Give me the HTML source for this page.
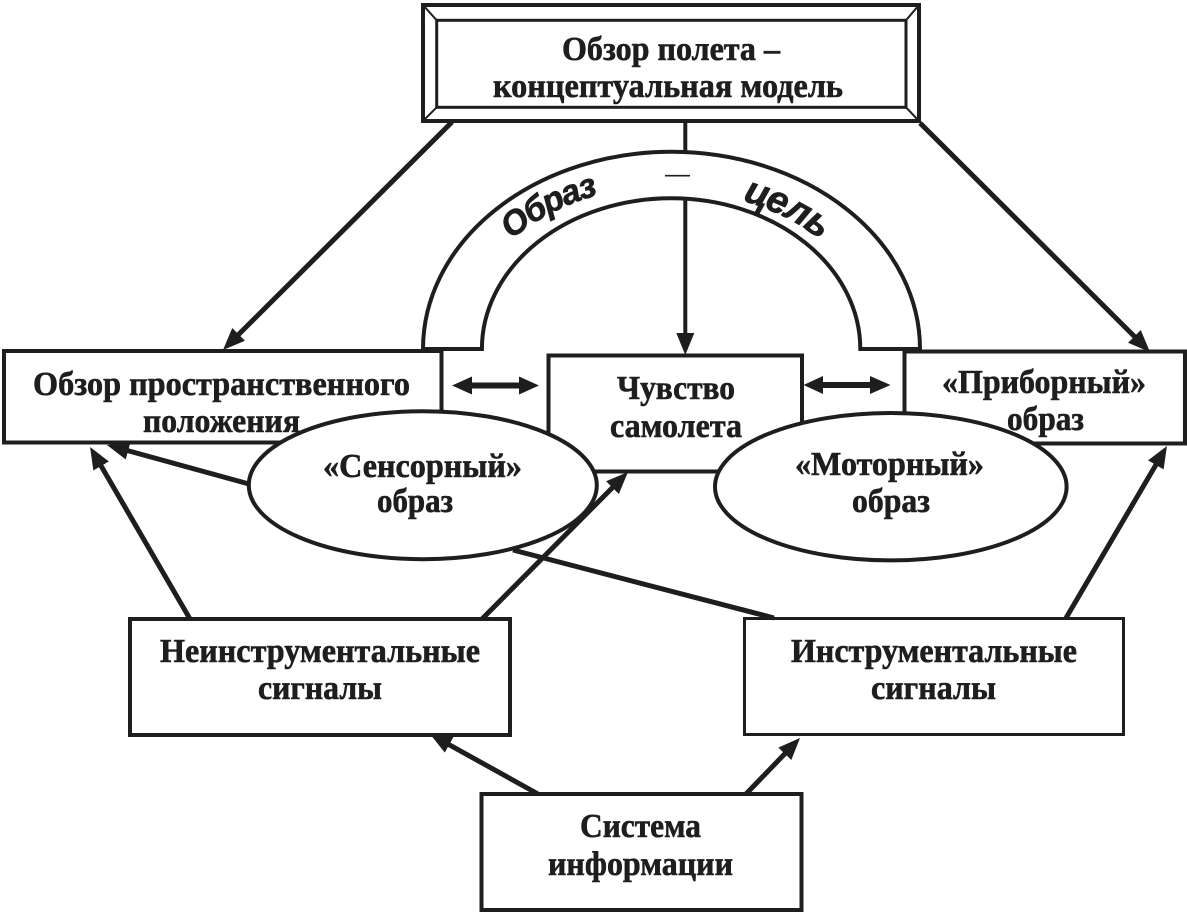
<!DOCTYPE html>
<html>
<head>
<meta charset="utf-8">
<style>
  html, body { margin: 0; padding: 0; background: #ffffff; }
  svg { display: block; }
  .t { font-family: "Liberation Serif", "DejaVu Serif", serif; font-weight: bold; font-size: 34px; fill: #1e1e1e; stroke: #1e1e1e; stroke-width: 0.6; }
  .s { font-family: "Liberation Sans", "DejaVu Sans", sans-serif; font-weight: bold; font-style: italic; fill: #1e1e1e; stroke: #1e1e1e; stroke-width: 0.7; }
</style>
</head>
<body>
<svg width="1187" height="913" viewBox="0 0 1187 913" xmlns="http://www.w3.org/2000/svg">
  <defs>
    <marker id="ah" markerUnits="userSpaceOnUse" markerWidth="22" markerHeight="18" viewBox="0 0 22 18" refX="12" refY="9" orient="auto">
      <path d="M0,0 L22,9 L0,18 Z" fill="#1e1e1e"/>
    </marker>
    <path id="arcA" d="M457,349 A214,164 0 0 1 885,349" fill="none"/>
    <path id="arcB" d="M464,349 A207,158 0 0 1 878,349" fill="none"/>
  </defs>

  <rect x="0" y="0" width="1187" height="913" fill="#ffffff"/>

  <!-- Top box with bevel frame -->
  <rect x="423" y="5" width="496" height="116" fill="#fff" stroke="#1e1e1e" stroke-width="4"/>
  <rect x="436.7" y="20.3" width="469.3" height="87" fill="#fff" stroke="#1e1e1e" stroke-width="3"/>
  <g stroke="#1e1e1e" stroke-width="2">
    <line x1="423" y1="5" x2="436.7" y2="20.3"/>
    <line x1="919" y1="5" x2="906" y2="20.3"/>
    <line x1="423" y1="121" x2="436.7" y2="107.3"/>
    <line x1="919" y1="121" x2="906" y2="107.3"/>
  </g>
  <text class="t" x="671" y="60" text-anchor="middle" textLength="218" lengthAdjust="spacingAndGlyphs">Обзор полета –</text>
  <text class="t" x="668" y="97" text-anchor="middle" textLength="350" lengthAdjust="spacingAndGlyphs">концептуальная модель</text>

  <!-- Middle boxes -->
  <rect x="4" y="351" width="437.5" height="91.5" fill="#fff" stroke="#1e1e1e" stroke-width="4"/>
  <text class="t" x="221.5" y="395" text-anchor="middle" textLength="377" lengthAdjust="spacingAndGlyphs">Обзор пространственного</text>
  <text class="t" x="221.5" y="432" text-anchor="middle" textLength="157" lengthAdjust="spacingAndGlyphs">положения</text>

  <rect x="548.5" y="355.5" width="253.5" height="116" fill="#fff" stroke="#1e1e1e" stroke-width="4"/>
  <text class="t" x="676" y="399" text-anchor="middle" textLength="118" lengthAdjust="spacingAndGlyphs">Чувство</text>
  <text class="t" x="676" y="437" text-anchor="middle" textLength="132" lengthAdjust="spacingAndGlyphs">самолета</text>

  <rect x="904.5" y="351.5" width="280.5" height="92" fill="#fff" stroke="#1e1e1e" stroke-width="4"/>
  <text class="t" x="1044" y="393" text-anchor="middle" textLength="204" lengthAdjust="spacingAndGlyphs">«Приборный»</text>
  <text class="t" x="1045.5" y="430" text-anchor="middle" textLength="77" lengthAdjust="spacingAndGlyphs">образ</text>

  <!-- Top connectors -->
  <g stroke="#1e1e1e" stroke-width="5" fill="none">
    <line x1="452" y1="122" x2="230.1" y2="342.9" marker-end="url(#ah)"/>
    <line x1="920" y1="123" x2="1142.9" y2="344.9" marker-end="url(#ah)"/>
  </g>
  <line x1="685.3" y1="121" x2="685.3" y2="345" stroke="#1e1e1e" stroke-width="4" marker-end="url(#ah)"/>

  <!-- Arch -->
  <path d="M423,349 A248.5,197.3 0 0 1 920,349 L860.3,349 A189.2,150.7 0 0 0 481.9,349 Z" fill="#ffffff" stroke="#1e1e1e" stroke-width="4" stroke-linejoin="miter"/>
  <text class="s" font-size="34" letter-spacing="-1.5"><textPath href="#arcA" startOffset="126">Образ</textPath></text>
  <text class="s" font-size="38" letter-spacing="-1"><textPath href="#arcB" startOffset="360">цель</textPath></text>
  <text x="665" y="182" font-family="Liberation Sans, sans-serif" font-size="25" fill="#1e1e1e">—</text>

  <!-- Double arrows -->
  <g fill="#1e1e1e">
    <rect x="468" y="382.5" width="56" height="6"/>
    <polygon points="452,385.5 472,376.5 472,394.5"/>
    <polygon points="539,385.5 519,376.5 519,394.5"/>
    <rect x="820" y="382" width="54" height="6"/>
    <polygon points="803.5,385 823,376 823,394"/>
    <polygon points="890.5,385 870,376 870,394"/>
  </g>

  <!-- Bottom boxes -->
  <rect x="130" y="619" width="380" height="116" fill="#fff" stroke="#1e1e1e" stroke-width="4"/>
  <text class="t" x="320" y="662" text-anchor="middle" textLength="320" lengthAdjust="spacingAndGlyphs">Неинструментальные</text>
  <text class="t" x="320" y="699" text-anchor="middle" textLength="124" lengthAdjust="spacingAndGlyphs">сигналы</text>

  <rect x="744.5" y="618.5" width="379" height="116" fill="#fff" stroke="#1e1e1e" stroke-width="3"/>
  <text class="t" x="934" y="662" text-anchor="middle" textLength="286" lengthAdjust="spacingAndGlyphs">Инструментальные</text>
  <text class="t" x="933.5" y="699" text-anchor="middle" textLength="125" lengthAdjust="spacingAndGlyphs">сигналы</text>

  <rect x="481.5" y="794" width="320" height="116" fill="#fff" stroke="#1e1e1e" stroke-width="4"/>
  <text class="t" x="640.5" y="837" text-anchor="middle" textLength="121" lengthAdjust="spacingAndGlyphs">Система</text>
  <text class="t" x="640.5" y="875" text-anchor="middle" textLength="185" lengthAdjust="spacingAndGlyphs">информации</text>

  <!-- Ellipses -->
  <ellipse cx="422.8" cy="485.2" rx="174" ry="74" fill="#fff" stroke="#1e1e1e" stroke-width="4"/>
  <text class="t" x="422.5" y="477" text-anchor="middle" textLength="199" lengthAdjust="spacingAndGlyphs">«Сенсорный»</text>
  <text class="t" x="415" y="512" text-anchor="middle" textLength="76" lengthAdjust="spacingAndGlyphs">образ</text>

  <ellipse cx="890.8" cy="486.7" rx="175.8" ry="73.7" fill="#fff" stroke="#1e1e1e" stroke-width="4"/>
  <text class="t" x="889.5" y="475" text-anchor="middle" textLength="189" lengthAdjust="spacingAndGlyphs">«Моторный»</text>
  <text class="t" x="891" y="512" text-anchor="middle" textLength="78" lengthAdjust="spacingAndGlyphs">образ</text>

  <!-- Lower connectors -->
  <g stroke="#1e1e1e" stroke-width="5" fill="none">
    <line x1="249" y1="484" x2="116.6" y2="447.6" marker-end="url(#ah)"/>
    <line x1="190" y1="619" x2="95.1" y2="455.6" marker-end="url(#ah)"/>
    <line x1="482" y1="619" x2="620.9" y2="479.1" marker-end="url(#ah)"/>
    <line x1="513" y1="550" x2="774" y2="618"/>
    <line x1="1066" y1="618" x2="1161.9" y2="454.6" marker-end="url(#ah)"/>
    <line x1="538" y1="794" x2="438.7" y2="738.9" marker-end="url(#ah)"/>
    <line x1="746" y1="794" x2="793.1" y2="745.2" marker-end="url(#ah)"/>
  </g>
</svg>
</body>
</html>
